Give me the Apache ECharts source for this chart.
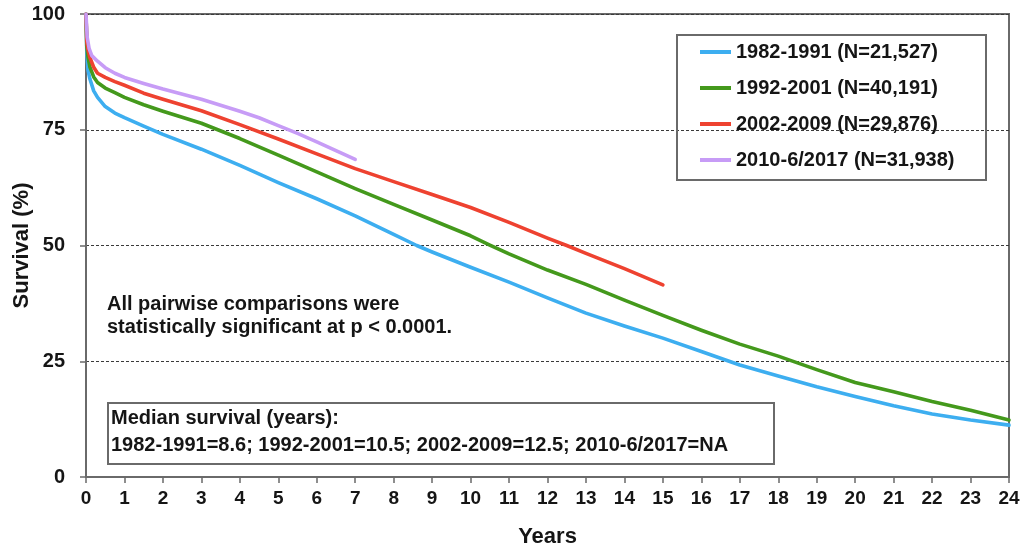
<!DOCTYPE html>
<html>
<head>
<meta charset="utf-8">
<title>Survival by era</title>
<script src="https://cdn.jsdelivr.net/npm/echarts@6/dist/echarts.min.js"></script>
<style>
  html, body { margin: 0; padding: 0; background: #fff; }
  #chart { width: 1028px; height: 553px; }
</style>
</head>
<body>
<div id="chart"></div>
<script>
// Kaplan-Meier style survival (%) by era of transplant, years of follow-up
const seriesNames = [
  '1982-1991 (N=21,527)',
  '1992-2001 (N=40,191)',
  '2002-2009 (N=29,876)',
  '2010-6/2017 (N=31,938)'
];

const t1982 = [0, 0.02, 0.05, 0.1, 0.2, 0.3, 0.5, 0.75, 1, 1.5, 2, 3, 4, 5, 6, 7, 8, 8.6, 9, 10, 11, 12, 13, 14, 15, 16, 17, 18, 19, 20, 21, 22, 23, 24];
const s1982 = [100, 92, 88, 86, 83.4, 82, 80, 78.6, 77.6, 75.8, 74, 70.8, 67.3, 63.6, 60.1, 56.4, 52.4, 50, 48.6, 45.3, 42.1, 38.7, 35.4, 32.6, 30, 27.1, 24.2, 21.8, 19.5, 17.4, 15.4, 13.6, 12.3, 11.2];

const t1992 = [0, 0.02, 0.05, 0.1, 0.2, 0.3, 0.5, 0.75, 1, 1.5, 2, 3, 4, 5, 6, 7, 8, 9, 10, 10.5, 11, 12, 13, 14, 15, 16, 17, 18, 19, 20, 21, 22, 23, 24];
const s1992 = [100, 93, 90.8, 88.6, 86.4, 85.2, 84, 83, 82, 80.4, 79, 76.4, 73.1, 69.5, 65.9, 62.3, 58.9, 55.5, 52.1, 50.1, 48.2, 44.7, 41.6, 38.2, 34.9, 31.7, 28.7, 26.1, 23.2, 20.4, 18.4, 16.3, 14.4, 12.3];

const t2002 = [0, 0.02, 0.05, 0.1, 0.2, 0.3, 0.5, 0.75, 1, 1.5, 2, 3, 4, 5, 6, 7, 8, 9, 10, 11, 12, 12.5, 13, 14, 15];
const s2002 = [100, 94, 92.3, 90.6, 88.5, 87.2, 86.3, 85.4, 84.6, 82.9, 81.6, 79.1, 76.1, 73, 69.8, 66.6, 63.8, 61, 58.2, 55, 51.6, 50, 48.3, 45, 41.5];

const t2010 = [0, 0.03, 0.08, 0.15, 0.3, 0.5, 0.75, 1, 1.5, 2, 3, 4, 4.5, 5, 5.5, 6, 6.5, 7];
const s2010 = [100, 95, 92.6, 91, 89.8, 88.4, 87.2, 86.3, 85, 83.8, 81.6, 79, 77.6, 75.9, 74.2, 72.4, 70.5, 68.6];

const eraTimes = [t1982, t1992, t2002, t2010];
const eraSurvival = [s1982, s1992, s2002, s2010];
const eraColors = ['#3daef0', '#44991c', '#ee4230', '#c79cf6'];

const xTicks = { min: 0, max: 24, step: 1 };
const yTicks = { min: 0, max: 100, step: 25 };

const noteLines = ['All pairwise comparisons were', 'statistically significant at p < 0.0001.'];
const medianLines = ['Median survival (years):', '1982-1991=8.6; 1992-2001=10.5; 2002-2009=12.5; 2010-6/2017=NA'];

const FONT = '"Liberation Sans", Arial, Helvetica, sans-serif';
const INK = '#151515';
const FRAME = '#6a6a6a';

const series = seriesNames.map((name, i) => ({
  name: name,
  type: 'line',
  data: eraTimes[i].map((t, k) => [t, eraSurvival[i][k]]),
  showSymbol: false,
  smooth: false,
  lineStyle: { width: 3.6, color: eraColors[i], join: 'round', cap: 'round' },
  itemStyle: { color: eraColors[i] },
  z: 3 + i
}));

const textStyleBold = { fill: INK, font: 'bold 20px ' + FONT };

const chart = echarts.init(document.getElementById('chart'), null, { renderer: 'canvas' });
chart.setOption({
  animation: false,
  backgroundColor: '#ffffff',
  grid: {
    left: 86, right: 19, top: 14, bottom: 76,
    containLabel: false,
    outerBoundsMode: 'none',
    show: true, borderColor: FRAME, borderWidth: 2, backgroundColor: 'transparent'
  },
  xAxis: {
    type: 'value',
    min: xTicks.min, max: xTicks.max, interval: xTicks.step,
    name: 'Years',
    nameLocation: 'middle',
    nameGap: 49,
    nameMoveOverlap: false,
    nameTextStyle: { fontFamily: FONT, fontWeight: 'bold', fontSize: 22, color: INK },
    axisLine: { show: true, lineStyle: { color: FRAME, width: 2 } },
    axisTick: { show: true, length: 6, lineStyle: { color: FRAME, width: 1.5 } },
    axisLabel: { fontFamily: FONT, fontWeight: 'bold', fontSize: 19, color: INK, margin: 12 },
    splitLine: { show: false }
  },
  yAxis: {
    type: 'value',
    min: yTicks.min, max: yTicks.max, interval: yTicks.step,
    name: 'Survival (%)',
    nameLocation: 'middle',
    nameGap: 53,
    nameMoveOverlap: false,
    nameTextStyle: { fontFamily: FONT, fontWeight: 'bold', fontSize: 22, color: INK },
    axisLine: { show: true, lineStyle: { color: FRAME, width: 2 } },
    axisTick: { show: true, length: 6, lineStyle: { color: FRAME, width: 1.5 } },
    axisLabel: { fontFamily: FONT, fontWeight: 'bold', fontSize: 20, color: INK, margin: 21 },
    splitLine: { show: true, lineStyle: { color: '#3a3a3a', width: 1, type: [3, 2] } }
  },
  legend: {
    data: seriesNames,
    orient: 'vertical',
    left: 700,
    top: 42,
    padding: 0,
    itemWidth: 31,
    itemHeight: 4,
    itemGap: 16,
    icon: 'rect',
    textStyle: { fontFamily: FONT, fontWeight: 'bold', fontSize: 20, color: INK, lineHeight: 20 }
  },
  graphic: [
    {
      type: 'rect', left: 676, top: 34, z: 10,
      shape: { width: 309, height: 145 },
      style: { fill: 'transparent', stroke: FRAME, lineWidth: 2 }
    },
    {
      type: 'text', left: 107, top: 293, z: 10,
      style: Object.assign({ text: noteLines.join('\n'), lineHeight: 23 }, textStyleBold)
    },
    {
      type: 'rect', left: 107, top: 402, z: 10,
      shape: { width: 666, height: 61 },
      style: { fill: '#ffffff', stroke: FRAME, lineWidth: 2 }
    },
    {
      type: 'text', left: 111, top: 405, z: 11,
      style: Object.assign({ text: medianLines.join('\n'), lineHeight: 27 }, textStyleBold)
    }
  ],
  series: series
});
</script>
</body>
</html>
